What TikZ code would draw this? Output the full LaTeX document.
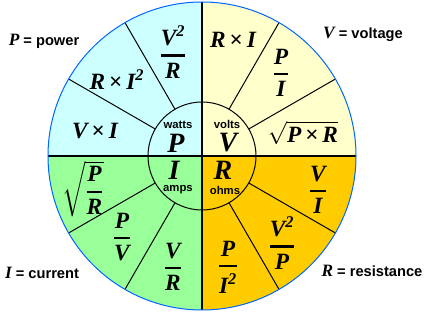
\documentclass[tikz,border=0pt]{standalone}
\usepackage{amsmath}
\usepackage{fontspec}
\setmainfont{Liberation Serif}
\setsansfont{Liberation Sans}
\usetikzlibrary{math}
\definecolor{powerc}{HTML}{CCFFFF}
\definecolor{voltc}{HTML}{FFFFCC}
\definecolor{currc}{HTML}{99FF99}
\definecolor{resc}{HTML}{FFCC00}
\definecolor{rimblue}{HTML}{0066FF}
\newcommand{\q}[1]{\text{#1}}
\newcommand{\fr}[2]{\genfrac{}{}{1.6pt}{0}{#1}{#2}}
\newcommand{\by}{\text{\upshape\,×\,}}
\tikzset{
  formula/.style={font=\fontsize{17.5}{20}\selectfont\bfseries\itshape, inner sep=0pt},
  unit/.style={font=\fontsize{8.5}{10}\selectfont\sffamily\bfseries, inner sep=0pt},
  big/.style={font=\fontsize{21}{23}\selectfont\bfseries\itshape, inner sep=0pt},
  legend/.style={font=\fontsize{11}{13}\selectfont\sffamily\bfseries, inner sep=0pt}
}

\begin{document}
\begin{tikzpicture}[x=0.75pt,y=0.75pt]
\tikzmath{
\rout=154;
\rin=54;
}
\useasboundingbox (-202,-164) rectangle (229,156);
% quadrants
\foreach \a/\c in {0/voltc,90/powerc,180/currc,270/resc}
  \fill[\c] (0,0) -- (\a:\rout) arc[start angle=\a, delta angle=90, radius=\rout] -- cycle;
\foreach \a in {30,60,120,150,210,240,300,330}
  \draw[line width=0.75pt] (\a:\rin) -- (\a:\rout);
\draw[line width=0.75pt] (0,0) circle[radius=\rin];
\draw[line width=1.5pt] (-\rout,0) -- (\rout,0);
\draw[line width=1.5pt] (0,-\rout) -- (0,\rout);
\draw[rimblue, line width=0.75pt] (0,0) circle[radius=\rout];

% centre
\node[unit] (watts) at (-24,31) {watts};
\node[big] (pow) at (-26,13) {P};
\node[unit] (volts) at (25,32) {volts};
\node[big] (volt) at (26,13) {V};
\node[big] (cur) at (-28,-14) {I};
\node[unit] (amps) at (-24,-34) {amps};
\node[big] (res) at (21,-14) {R};
\node[unit] (ohms) at (23,-34) {ohms};

% power
\node[formula] (p1) at (-29,104) {$\fr{\q{V}^{\q{2}}}{\q{R}}$};
\node[formula] (p2) at (-85,76) {$\q{R}\by\q{I}^{\q{2}}$};
\node[formula] (p3) at (-107,25) {$\q{V}\by\q{I}$};
% voltage
\node[formula] (v1) at (31,116) {$\q{R}\by\q{I}$};
\node[formula] (v2) at (79,83) {$\fr{\q{P}}{\q{I}}$};
\node[formula] (v3) at (101,23) {$\sqrt{\q{P}\by\q{R}}$};
% current
\node[formula] (i1) at (-119,-33) {$\sqrt{\fr{\q{P}}{\q{R}}}$};
\node[formula] (i2) at (-80,-81) {$\fr{\q{P}}{\q{V}}$};
\node[formula] (i3) at (-29,-111) {$\fr{\q{V}}{\q{R}}$};
% resistance
\node[formula] (r1) at (26,-111) {$\fr{\q{P}}{\q{I}^{\q{2}}}$};
\node[formula] (r2) at (80,-87) {$\fr{\q{V}^{\q{2}}}{\q{P}}$};
\node[formula] (r3) at (116,-34) {$\fr{\q{V}}{\q{I}}$};

% legend
\node[legend] (lp) at (-158,115) {{\fontsize{13}{15}\selectfont\rmfamily\itshape P} = power};
\node[legend] (lv) at (161,122) {{\fontsize{13}{15}\selectfont\rmfamily\itshape V} = voltage};
\node[legend] (li) at (-160,-117) {{\fontsize{13}{15}\selectfont\rmfamily\itshape I} = current};
\node[legend] (lr) at (170,-115) {{\fontsize{13}{15}\selectfont\rmfamily\itshape R} = resistance};
\end{tikzpicture}
\end{document}
